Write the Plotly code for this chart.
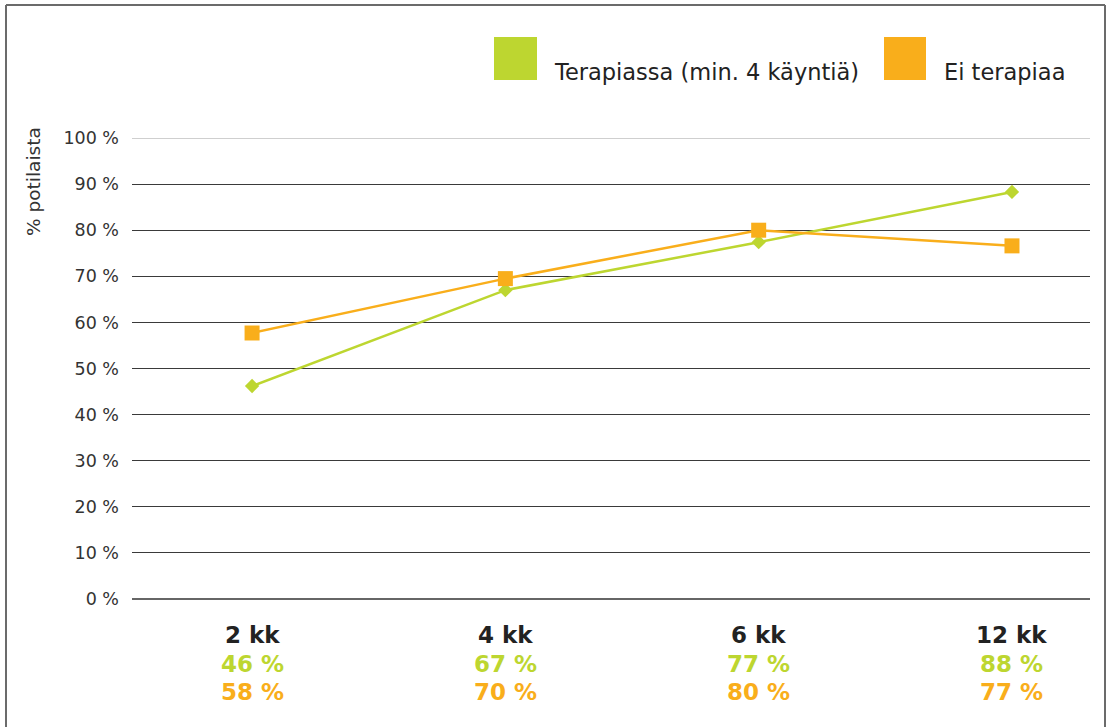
import plotly.graph_objects as go

categories = ["2 kk", "4 kk", "6 kk", "12 kk"]
series_names = ["Terapiassa (min. 4 käyntiä)", "Ei terapiaa"]
therapy_values = [46.2, 67.0, 77.4, 88.3]
no_therapy_values = [57.7, 69.5, 80.0, 76.6]
therapy_labels = ["46 %", "67 %", "77 %", "88 %"]
no_therapy_labels = ["58 %", "70 %", "80 %", "77 %"]
y_ticks = [0, 10, 20, 30, 40, 50, 60, 70, 80, 90, 100]
y_tick_text = [f"{v} %" for v in y_ticks]
y_title = "% potilaista"

GREEN = "#BDD630"
ORANGE = "#F9AE1B"
FONT = "Verdana, DejaVu Sans, sans-serif"

W, H = 1109, 727
L, R, T, B = 132, 1090, 138, 599

fig = go.Figure()
fig.add_trace(go.Scatter(
    x=categories, y=therapy_values, name=series_names[0], mode="lines+markers",
    line=dict(color=GREEN, width=2.5),
    marker=dict(symbol="diamond", size=11, color=GREEN),
))
fig.add_trace(go.Scatter(
    x=categories, y=no_therapy_values, name=series_names[1], mode="lines+markers",
    line=dict(color=ORANGE, width=2.5),
    marker=dict(symbol="square", size=15, color=ORANGE),
))

def px_x(px):
    return (px - L) / (R - L)

def px_y(py):
    return (B - py) / (B - T)

shapes = []
# outer frame (top, left, right)
shapes.append(dict(type="line", xref="paper", yref="paper", x0=px_x(6), x1=px_x(1105),
                   y0=px_y(5), y1=px_y(5), line=dict(color="#6b6b6b", width=2)))
shapes.append(dict(type="line", xref="paper", yref="paper", x0=px_x(6), x1=px_x(6),
                   y0=px_y(5), y1=px_y(740), line=dict(color="#6b6b6b", width=2)))
shapes.append(dict(type="line", xref="paper", yref="paper", x0=px_x(1105), x1=px_x(1105),
                   y0=px_y(5), y1=px_y(740), line=dict(color="#6b6b6b", width=2)))
# lighter top gridline
shapes.append(dict(type="line", xref="paper", yref="y", x0=0, x1=1, y0=100, y1=100,
                   line=dict(color="#a0a0a0", width=1), layer="above"))
# legend squares
shapes.append(dict(type="rect", xref="paper", yref="paper", x0=px_x(494), x1=px_x(537),
                   y0=px_y(80), y1=px_y(37), fillcolor=GREEN, line=dict(width=0)))
shapes.append(dict(type="rect", xref="paper", yref="paper", x0=px_x(884), x1=px_x(926),
                   y0=px_y(80), y1=px_y(37), fillcolor=ORANGE, line=dict(width=0)))

annotations = []
annotations.append(dict(xref="paper", yref="paper", x=px_x(552), y=px_y(72), text=series_names[0],
                        showarrow=False, xanchor="left", yanchor="middle",
                        font=dict(family=FONT, size=22.5, color="#222")))
annotations.append(dict(xref="paper", yref="paper", x=px_x(942), y=px_y(72), text=series_names[1],
                        showarrow=False, xanchor="left", yanchor="middle",
                        font=dict(family=FONT, size=22.5, color="#222")))
annotations.append(dict(xref="paper", yref="paper", x=px_x(33), y=px_y(182), text=y_title,
                        showarrow=False, textangle=-90, xanchor="center", yanchor="middle",
                        font=dict(family=FONT, size=18.5, color="#333")))
for c, g, o in zip(categories, therapy_labels, no_therapy_labels):
    annotations.append(dict(xref="x", yref="paper", x=c, y=px_y(635), text=f"<b>{c}</b>",
                            showarrow=False, xanchor="center", yanchor="middle",
                            font=dict(family=FONT, size=23, color="#222")))
    annotations.append(dict(xref="x", yref="paper", x=c, y=px_y(664), text=f"<b>{g}</b>",
                            showarrow=False, xanchor="center", yanchor="middle",
                            font=dict(family=FONT, size=23, color=GREEN)))
    annotations.append(dict(xref="x", yref="paper", x=c, y=px_y(692), text=f"<b>{o}</b>",
                            showarrow=False, xanchor="center", yanchor="middle",
                            font=dict(family=FONT, size=23, color=ORANGE)))

fig.update_layout(
    width=W, height=H,
    margin=dict(l=L, r=W - R, t=T, b=H - B, pad=0),
    paper_bgcolor="white", plot_bgcolor="white",
    showlegend=False,
    shapes=shapes, annotations=annotations,
    font=dict(family=FONT, color="#333"),
    xaxis=dict(type="category", categoryorder="array", categoryarray=categories,
               range=[-0.474, 3.308], showticklabels=False, showgrid=False,
               zeroline=False, showline=False, fixedrange=True),
    yaxis=dict(range=[0, 100], tickvals=y_ticks, ticktext=y_tick_text,
               showgrid=True, gridcolor="#3a3a3a", gridwidth=1,
               zeroline=True, zerolinecolor="#666", zerolinewidth=2,
               showline=False, ticks="", ticklabelstandoff=12,
               tickfont=dict(family=FONT, size=17.5, color="#333"), fixedrange=True),
)

fig.write_html("out.html")
